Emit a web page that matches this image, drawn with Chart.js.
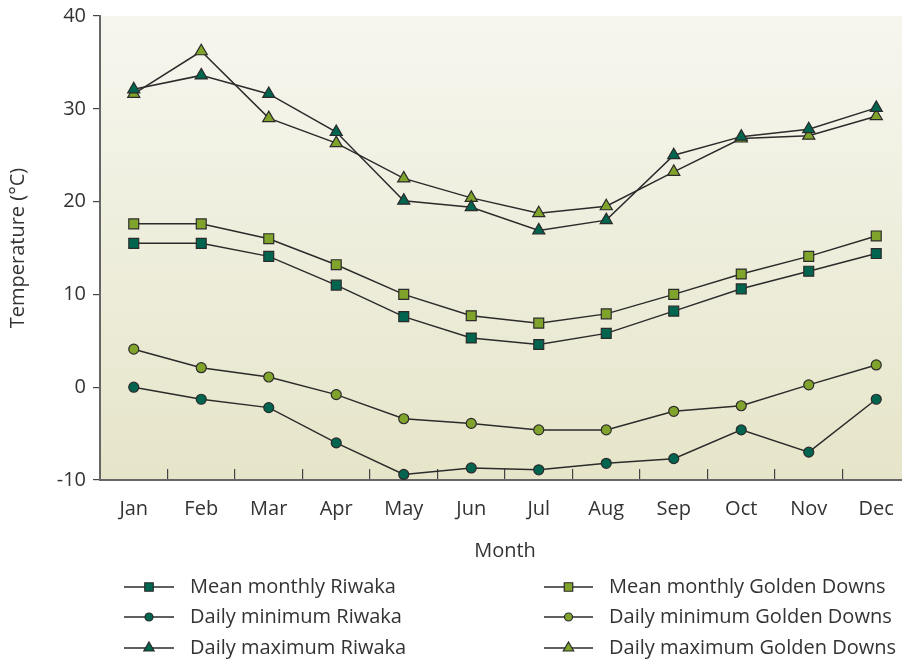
<!DOCTYPE html>
<html>
<head>
    <title>Temperature Riwaka / Golden Downs</title>
    <script src="https://cdn.jsdelivr.net/npm/chart.js"></script>
    <style>
        body { margin: 0; background: #fff; overflow: hidden; }
    </style>
</head>
<body>
    <!-- canvas is a bit wider than the window: the plot in the original runs past the right edge -->
    <canvas id="tempChart" width="910" height="664"></canvas>

    <script>
        // data (°C)
        const months = ['Jan', 'Feb', 'Mar', 'Apr', 'May', 'Jun', 'Jul', 'Aug', 'Sep', 'Oct', 'Nov', 'Dec'];
        const yTicks = [-10, 0, 10, 20, 30, 40];

        const riwakaMean = [15.5, 15.5, 14.1, 11.0, 7.6, 5.3, 4.6, 5.8, 8.2, 10.6, 12.5, 14.4];
        const riwakaMin = [0.0, -1.3, -2.2, -6.0, -9.4, -8.7, -8.9, -8.2, -7.7, -4.6, -7.0, -1.3];
        const riwakaMax = [32.1, 33.6, 31.6, 27.5, 20.1, 19.4, 16.9, 18.0, 25.0, 27.0, 27.8, 30.1];

        const goldenMean = [17.6, 17.6, 16.0, 13.2, 10.0, 7.7, 6.9, 7.9, 10.0, 12.2, 14.1, 16.3];
        const goldenMin = [4.1, 2.1, 1.1, -0.8, -3.4, -3.9, -4.6, -4.6, -2.6, -2.0, 0.25, 2.4];
        const goldenMax = [31.6, 36.2, 29.0, 26.3, 22.5, 20.4, 18.75, 19.5, 23.2, 26.8, 27.1, 29.2];

        const DARK = '#00654f';
        const LIGHT = '#80a32b';
        const LINE = '#2b2b2b';
        const FONT = '"Open Sans", sans-serif';

        function series(label, data, color, style, radius) {
            return {
                label: label,
                data: data,
                borderColor: LINE,
                borderWidth: 1.5,
                backgroundColor: color,
                pointBackgroundColor: color,
                pointBorderColor: '#2b2b2b',
                pointBorderWidth: 1.2,
                pointStyle: style,
                pointRadius: radius,
                pointHoverRadius: radius,
                tension: 0
            };
        }

        // soft vertical gradient behind the plot
        const plotBackground = {
            id: 'plotBackground',
            beforeDraw(chart) {
                const { ctx, chartArea } = chart;
                const g = ctx.createLinearGradient(0, chartArea.top, 0, chartArea.bottom);
                g.addColorStop(0, '#f6f6ef');
                g.addColorStop(1, '#e6e5c9');
                ctx.save();
                ctx.fillStyle = g;
                ctx.fillRect(chartArea.left, chartArea.top, chartArea.right - chartArea.left, chartArea.bottom - chartArea.top);
                ctx.restore();
            }
        };

        // two column legend below the axis, built from the datasets
        const sideLegend = {
            id: 'sideLegend',
            afterDraw(chart) {
                const ctx = chart.ctx;
                const cols = [{ x0: 124, x1: 174, tx: 190 }, { x0: 544, x1: 593, tx: 609 }];
                const rows = [587, 617, 648];
                ctx.save();
                chart.data.datasets.forEach((ds, i) => {
                    const c = cols[Math.floor(i / 3)];
                    const y = rows[i % 3];
                    ctx.strokeStyle = LINE;
                    ctx.lineWidth = 1.5;
                    ctx.beginPath();
                    ctx.moveTo(c.x0, y);
                    ctx.lineTo(c.x1, y);
                    ctx.stroke();
                    ctx.fillStyle = ds.pointBackgroundColor;
                    ctx.strokeStyle = ds.pointBorderColor;
                    ctx.lineWidth = 1.2;
                    Chart.helpers.drawPoint(ctx, {
                        pointStyle: ds.pointStyle,
                        radius: ds.pointRadius - 1,
                        borderWidth: 1.2,
                        rotation: 0
                    }, (c.x0 + c.x1) / 2, y);
                    ctx.fillStyle = '#333';
                    ctx.font = '20px ' + FONT;
                    ctx.textBaseline = 'middle';
                    ctx.textAlign = 'left';
                    ctx.fillText(ds.label, c.tx, y);
                });
                ctx.restore();
            }
        };

        const ctx = document.getElementById('tempChart').getContext('2d');
        new Chart(ctx, {
            type: 'line',
            data: {
                labels: months,
                datasets: [
                    series('Mean monthly Riwaka', riwakaMean, DARK, 'rect', 7),
                    series('Daily minimum Riwaka', riwakaMin, DARK, 'circle', 5),
                    series('Daily maximum Riwaka', riwakaMax, DARK, 'triangle', 7),
                    series('Mean monthly Golden Downs', goldenMean, LIGHT, 'rect', 7),
                    series('Daily minimum Golden Downs', goldenMin, LIGHT, 'circle', 5),
                    series('Daily maximum Golden Downs', goldenMax, LIGHT, 'triangle', 7)
                ]
            },
            options: {
                responsive: false,
                animation: false,
                layout: {
                    autoPadding: false,
                    padding: { top: 16, right: 0, bottom: 100, left: 0 }
                },
                plugins: {
                    legend: { display: false },
                    tooltip: { enabled: false }
                },
                scales: {
                    x: {
                        type: 'category',
                        offset: true,
                        grid: {
                            offset: true,
                            drawOnChartArea: false,
                            drawTicks: true,
                            tickLength: -11,
                            color: '#444',
                            lineWidth: 1.2
                        },
                        border: { display: true, color: '#666', width: 2 },
                        ticks: {
                            color: '#333',
                            // small padding keeps "Dec" from adding right padding; tall line height pushes labels down
                            padding: 11,
                            maxRotation: 0,
                            font: { family: FONT, size: 20, lineHeight: 2.9 }
                        },
                        title: {
                            display: true,
                            text: 'Month',
                            color: '#333',
                            padding: { top: 0, bottom: 1 },
                            font: { family: FONT, size: 20 }
                        },
                        afterFit(scale) {
                            scale.height = 84;
                            scale.paddingLeft = 0;
                            scale.paddingRight = 0;
                        }
                    },
                    y: {
                        min: -10,
                        max: 40,
                        afterBuildTicks(scale) { scale.ticks = yTicks.map(v => ({ value: v })); },
                        grid: {
                            drawOnChartArea: false,
                            drawTicks: true,
                            tickLength: 7,
                            color: '#444',
                            lineWidth: 1.2
                        },
                        border: { display: true, color: '#666', width: 2 },
                        ticks: {
                            color: '#333',
                            padding: 7,
                            font: { family: FONT, size: 20 }
                        },
                        title: {
                            display: true,
                            text: 'Temperature (°C)',
                            color: '#333',
                            padding: { top: 6, bottom: 0 },
                            font: { family: FONT, size: 20 }
                        },
                        afterFit(scale) {
                            scale.width = 100;
                            scale.paddingTop = 0;
                            scale.paddingBottom = 0;
                        }
                    }
                }
            },
            plugins: [plotBackground, sideLegend]
        });
    </script>
</body>
</html>
